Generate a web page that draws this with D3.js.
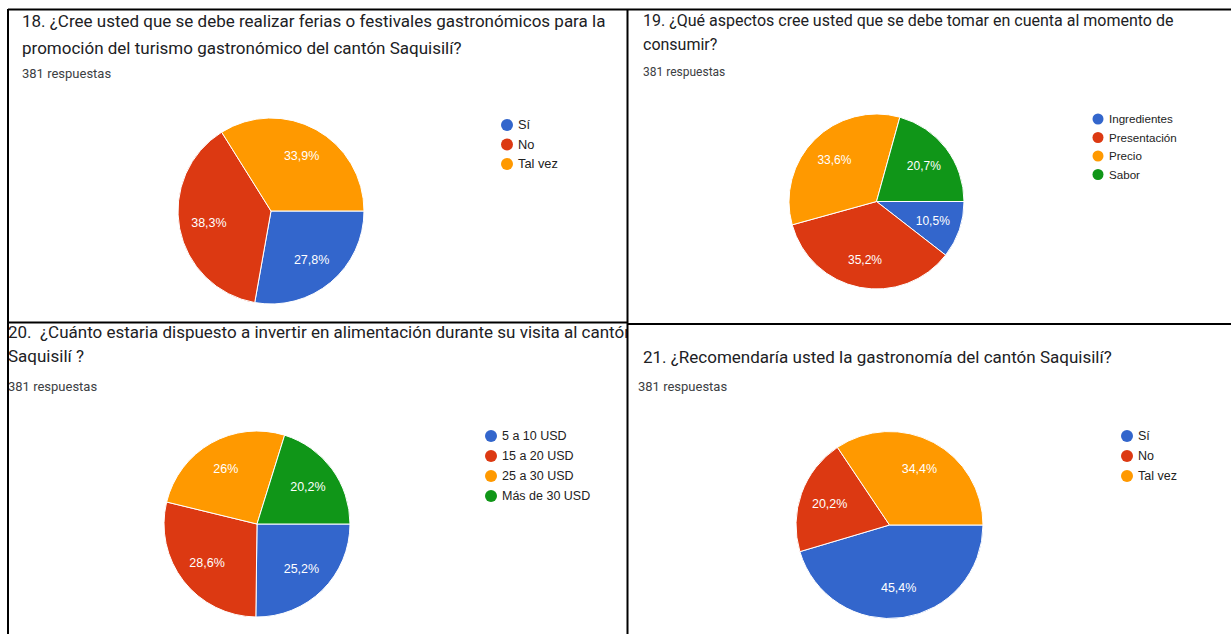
<!DOCTYPE html>
<html>
<head>
<meta charset="utf-8">
<script src="https://cdn.jsdelivr.net/npm/d3@7"></script>
<style>
  html, body { margin: 0; padding: 0; background: #fff; }
  svg { display: block; }
  text { white-space: pre; }
</style>
</head>
<body>
<svg id="chart" width="1231" height="634"></svg>
<script>
// ---- Data ----
const responsesText = "381 respuestas";
const colors = ["#3366cc", "#dc3912", "#ff9900", "#109618"];

const q18Title = ["18. ¿Cree usted que se debe realizar ferias o festivales gastronómicos para la",
                  "promoción del turismo gastronómico del cantón Saquisilí?"];
const q18Labels = ["Sí", "No", "Tal vez"];
const q18Values = [27.8, 38.3, 33.9];

const q19Title = ["19. ¿Qué aspectos cree usted que se debe tomar en cuenta al momento de",
                  "consumir?"];
const q19Labels = ["Ingredientes", "Presentación", "Precio", "Sabor"];
const q19Values = [10.5, 35.2, 33.6, 20.7];

const q20Title = ["20.  ¿Cuánto estaria dispuesto a invertir en alimentación durante su visita al cantón",
                  "Saquisilí ?"];
const q20Labels = ["5 a 10 USD", "15 a 20 USD", "25 a 30 USD", "Más de 30 USD"];
const q20Values = [25.2, 28.6, 26, 20.2];

const q21Title = ["21. ¿Recomendaría usted la gastronomía del cantón Saquisilí?"];
const q21Labels = ["Sí", "No", "Tal vez"];
const q21Values = [45.4, 20.2, 34.4];

// ---- Layout ----
const panels = [
  { title: q18Title, labels: q18Labels, values: q18Values,
    tfs: 17, rfs: 13, lfs: 12.8, pfs: 12.5, dotR: 6,
    tx: 22, ty: [27, 54], rx: 22, ry: 78,
    cx: 271, cy: 211, r: 93, lx: 507, ly: 125, lstep: 19.5, clip: null },
  { title: q19Title, labels: q19Labels, values: q19Values,
    tfs: 16, rfs: 12, lfs: 11.6, pfs: 12, dotR: 5.5,
    tx: 643, ty: [26, 50], rx: 643, ry: 76,
    cx: 876.5, cy: 201.5, r: 87.5, lx: 1098, ly: 119, lstep: 18.5, clip: null },
  { title: q20Title, labels: q20Labels, values: q20Values,
    tfs: 17, rfs: 13, lfs: 12.5, pfs: 12.5, dotR: 6,
    tx: 8, ty: [338, 362], rx: 8, ry: 391,
    cx: 257, cy: 524, r: 93, lx: 491, ly: 436, lstep: 20, clip: [8, 323, 619, 311] },
  { title: q21Title, labels: q21Labels, values: q21Values,
    tfs: 17, rfs: 13, lfs: 12.5, pfs: 12.5, dotR: 6,
    tx: 643, ty: [363], rx: 638, ry: 391,
    cx: 889.5, cy: 525, r: 93.5, lx: 1127, ly: 436, lstep: 20, clip: null }
];

const svg = d3.select("#chart");
const defs = svg.append("defs");
const fmt = v => (Math.round(v * 10) / 10).toString().replace(".", ",") + "%";

panels.forEach((p, i) => {
  const g = svg.append("g");
  let tg = g;
  if (p.clip) {
    defs.append("clipPath").attr("id", "clip" + i)
      .append("rect").attr("x", p.clip[0]).attr("y", p.clip[1])
      .attr("width", p.clip[2]).attr("height", p.clip[3]);
    tg = g.append("g").attr("clip-path", `url(#clip${i})`);
  }
  p.title.forEach((t, k) => {
    tg.append("text").attr("x", p.tx).attr("y", p.ty[k])
      .attr("font-family", "Roboto, Arial, sans-serif").attr("font-size", p.tfs)
      .attr("fill", "#202124").text(t);
  });
  tg.append("text").attr("x", p.rx).attr("y", p.ry)
    .attr("font-family", "Roboto, Arial, sans-serif").attr("font-size", p.rfs)
    .attr("fill", "#3c4043").text(responsesText);

  const pie = d3.pie().sort(null).value(d => d)
    .startAngle(Math.PI / 2).endAngle(Math.PI / 2 + 2 * Math.PI);
  const arcs = pie(p.values);
  const arc = d3.arc().innerRadius(0).outerRadius(p.r);
  const labelArc = d3.arc().innerRadius(p.r * 0.68).outerRadius(p.r * 0.68);
  const color = d3.scaleOrdinal().domain(p.labels).range(colors);

  const pg = g.append("g").attr("transform", `translate(${p.cx},${p.cy})`);
  pg.selectAll("path").data(arcs).join("path")
    .attr("d", arc)
    .attr("fill", (d, j) => color(p.labels[j]))
    .attr("stroke", "#fff").attr("stroke-width", 1);
  pg.selectAll("text").data(arcs).join("text")
    .attr("transform", d => `translate(${labelArc.centroid(d)})`)
    .attr("text-anchor", "middle").attr("dy", "0.35em")
    .attr("font-family", "Arial, 'Liberation Sans', sans-serif").attr("font-size", p.pfs)
    .attr("fill", "#fff").text(d => fmt(d.data));

  const lg = g.append("g");
  p.labels.forEach((l, j) => {
    lg.append("circle").attr("cx", p.lx).attr("cy", p.ly + j * p.lstep).attr("r", p.dotR)
      .attr("fill", color(l));
    lg.append("text").attr("x", p.lx + 11).attr("y", p.ly + j * p.lstep).attr("dy", "0.35em")
      .attr("font-family", "Arial, 'Liberation Sans', sans-serif").attr("font-size", p.lfs)
      .attr("fill", "#222").text(l);
  });
});

// ---- Borders ----
const lines = [
  [8, 9.5, 1231, 9.5],
  [8, 322.5, 628, 322.5],
  [628, 324, 1231, 324],
  [8, 9, 8, 634],
  [627.5, 9, 627.5, 634]
];
svg.append("g").selectAll("line").data(lines).join("line")
  .attr("x1", d => d[0]).attr("y1", d => d[1]).attr("x2", d => d[2]).attr("y2", d => d[3])
  .attr("stroke", "#000").attr("stroke-width", 2);
</script>
</body>
</html>
